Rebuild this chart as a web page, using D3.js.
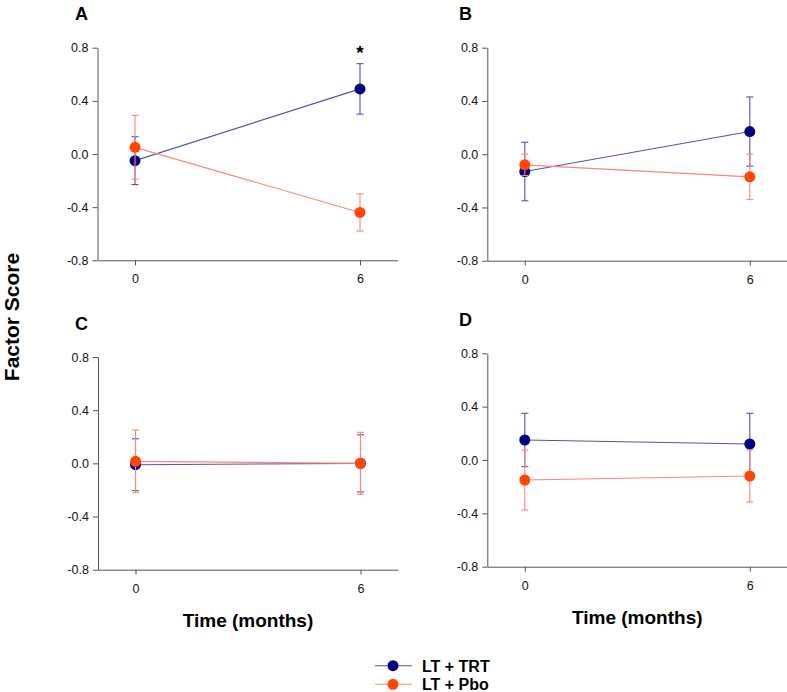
<!DOCTYPE html>
<html>
<head>
<meta charset="utf-8">
<script src="https://cdn.jsdelivr.net/npm/d3@7"></script>
<style>
  body { margin: 0; background: #fff; }
  svg { font-family: "Liberation Sans", Arial, sans-serif; }
  .axis path, .axis line { stroke: #555; }
</style>
</head>
<body>
<svg id="chart" width="787" height="692"></svg>
<script>
// data
const panelNames = ["A", "B", "C", "D"];
const timePoints = [0, 6];
const xTicks = [0, 6];
const yTicks = [-0.8, -0.4, 0.0, 0.4, 0.8];

const trtMean = [[-0.05, 0.49], [-0.13, 0.17], [-0.01, 0.0], [0.15, 0.12]];
const trtErr  = [[0.18, 0.19], [0.22, 0.26], [0.195, 0.215], [0.2, 0.23]];
const pboMean = [[0.05, -0.44], [-0.08, -0.17], [0.015, 0.0], [-0.15, -0.12]];
const pboErr  = [[0.24, 0.14], [0.08, 0.17], [0.235, 0.233], [0.225, 0.195]];
const significant = [[false, true], [false, false], [false, false], [false, false]];

const seriesNames = ["LT + TRT", "LT + Pbo"];

var svg = d3.select("#chart");

var layout = [
  { left: 97.5, right: 397.5, top: 47.7, bottom: 260.3, labelX: 75, labelY: 20 },
  { left: 487.3, right: 787.3, top: 47.7, bottom: 260.7, labelX: 459, labelY: 20 },
  { left: 98, right: 398, top: 357, bottom: 569.7, labelX: 75, labelY: 330 },
  { left: 487.3, right: 787.3, top: 353.3, bottom: 566.7, labelX: 459, labelY: 326 }
];

var colors = {
  line: ["#5252b3", "#ff8472"],
  marker: ["#000080", "#ff4500"]
};

function styleAxis(sel) {
  sel.attr("font-family", null).attr("font-size", null);
  sel.selectAll("text")
    .style("font-family", "'Liberation Sans', Arial, sans-serif")
    .style("font-size", "12.5px")
    .style("fill", "#111");
}

panelNames.forEach(function (name, p) {
  var L = layout[p];
  var x = d3.scaleLinear().domain([-1, 7]).range([L.left, L.right]);
  var y = d3.scaleLinear().domain([-0.8, 0.8]).range([L.bottom, L.top]);

  var g = svg.append("g");

  g.append("g")
    .attr("class", "axis")
    .attr("transform", `translate(${L.left},0)`)
    .call(d3.axisLeft(y).tickValues(yTicks).tickSize(5).tickSizeOuter(0)
      .tickPadding(4).tickFormat(d => d.toFixed(1)))
    .call(styleAxis);

  g.append("g")
    .attr("class", "axis")
    .attr("transform", `translate(0,${L.bottom})`)
    .call(d3.axisBottom(x).tickValues(xTicks).tickSize(5).tickSizeOuter(0)
      .tickPadding(9).tickFormat(d3.format("d")))
    .call(styleAxis);

  g.append("text")
    .attr("x", L.labelX)
    .attr("y", L.labelY)
    .style("font-size", "18px")
    .style("font-weight", "bold")
    .text(name);

  var series = [
    { mean: trtMean[p], err: trtErr[p] },
    { mean: pboMean[p], err: pboErr[p] }
  ];

  var line = d3.line().x(d => x(d.t)).y(d => y(d.v));

  series.forEach(function (s, k) {
    var pts = timePoints.map((t, i) => ({ t: t, v: s.mean[i], e: s.err[i] }));

    g.append("path")
      .attr("d", line(pts))
      .attr("fill", "none")
      .attr("stroke", colors.line[k])
      .attr("stroke-width", 1.1);

    var eb = g.selectAll(null).data(pts).enter().append("g")
      .attr("stroke", colors.line[k])
      .attr("stroke-width", 1.1);
    eb.append("line")
      .attr("x1", d => x(d.t)).attr("x2", d => x(d.t))
      .attr("y1", d => y(d.v + d.e)).attr("y2", d => y(d.v - d.e));
    eb.append("line")
      .attr("x1", d => x(d.t) - 3.5).attr("x2", d => x(d.t) + 3.5)
      .attr("y1", d => y(d.v + d.e)).attr("y2", d => y(d.v + d.e));
    eb.append("line")
      .attr("x1", d => x(d.t) - 3.5).attr("x2", d => x(d.t) + 3.5)
      .attr("y1", d => y(d.v - d.e)).attr("y2", d => y(d.v - d.e));

    g.selectAll(null).data(pts).enter().append("circle")
      .attr("cx", d => x(d.t))
      .attr("cy", d => y(d.v))
      .attr("r", 5.5)
      .attr("fill", colors.marker[k]);
  });

  timePoints.forEach(function (t, i) {
    if (significant[p][i]) {
      var top = Math.max(trtMean[p][i] + trtErr[p][i], pboMean[p][i] + pboErr[p][i]);
      g.append("text")
        .attr("x", x(t))
        .attr("y", y(top) - 5)
        .attr("text-anchor", "middle")
        .style("font-size", "19px")
        .style("font-weight", "bold")
        .text("*");
    }
  });

  if (p >= 2) {
    g.append("text")
      .attr("x", (x(0) + x(6)) / 2)
      .attr("y", L.bottom + 57)
      .attr("text-anchor", "middle")
      .style("font-size", "19px")
      .style("font-weight", "bold")
      .text("Time (months)");
  }
});

svg.append("text")
  .attr("transform", "translate(19,317) rotate(-90)")
  .attr("text-anchor", "middle")
  .style("font-size", "21px")
  .style("font-weight", "bold")
  .text("Factor Score");

// legend
var legend = svg.append("g");
seriesNames.forEach(function (s, k) {
  var ly = 665.7 + k * 18.6;
  legend.append("line")
    .attr("x1", 375).attr("x2", 412)
    .attr("y1", ly).attr("y2", ly)
    .attr("stroke", colors.line[k])
    .attr("stroke-width", 1.1);
  legend.append("circle")
    .attr("cx", 393).attr("cy", ly).attr("r", 5.5)
    .attr("fill", colors.marker[k]);
  legend.append("text")
    .attr("x", 422).attr("y", ly + 6)
    .style("font-size", "16px")
    .style("font-weight", "bold")
    .text(s);
});
</script>
</body>
</html>
